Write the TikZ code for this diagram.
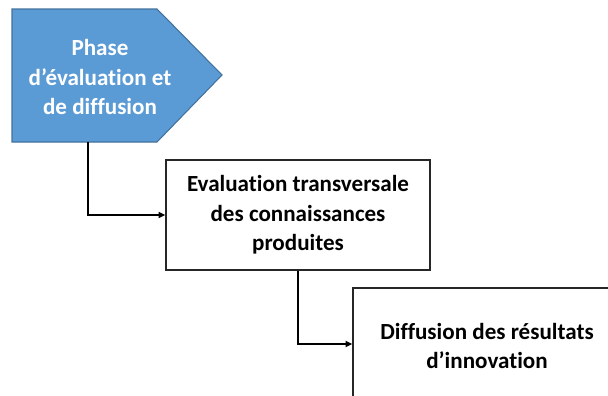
\documentclass[tikz,border=0pt]{standalone}
\usepackage{fontspec}
\setmainfont{Carlito}[Ligatures=NoCommon]
\usepackage{xcolor}
\usepackage{tikz}
\usetikzlibrary{arrows.meta,positioning,calc}

\definecolor{phaseblue}{HTML}{5B9BD5}
\definecolor{phaseedge}{HTML}{41719C}

\begin{document}
\begin{tikzpicture}[
    x=0.75pt, y=-0.75pt,
    txt/.style={font=\fontsize{17.3}{22}\selectfont\bfseries, align=center},
    stepbox/.style={rectangle, draw=black!85, line width=1.1pt, fill=white,
                minimum width=264*0.75pt, minimum height=110*0.75pt,
                txt},
    link/.style={draw=black, line width=1.1pt, -{Triangle[length=5pt,width=4.5pt]}},
]
\useasboundingbox (0,0) rectangle (608,396);

% phase arrow
\draw[fill=phaseblue, draw=phaseedge, line width=0.8pt]
    (12,9) -- (157,9) -- (222,75) -- (157,142) -- (12,142) -- cycle;
\node[txt, text=white] (phase) at (100,77) {Phase\\d’évaluation et\\de diffusion};
\coordinate (pbot) at (88,142);

\node[stepbox] (eval) at (298,215) {
    Evaluation transversale\\des connaissances\\produites
};

\node[stepbox, minimum width=268*0.75pt, minimum height=116*0.75pt]
    (diff) at (487,346) {
    Diffusion des résultats\\d’innovation
};

\draw[link] (pbot) |- (eval.west);
\draw[link] (eval.south) |- ($(diff.west)+(0,-2)$);

\end{tikzpicture}
\end{document}
